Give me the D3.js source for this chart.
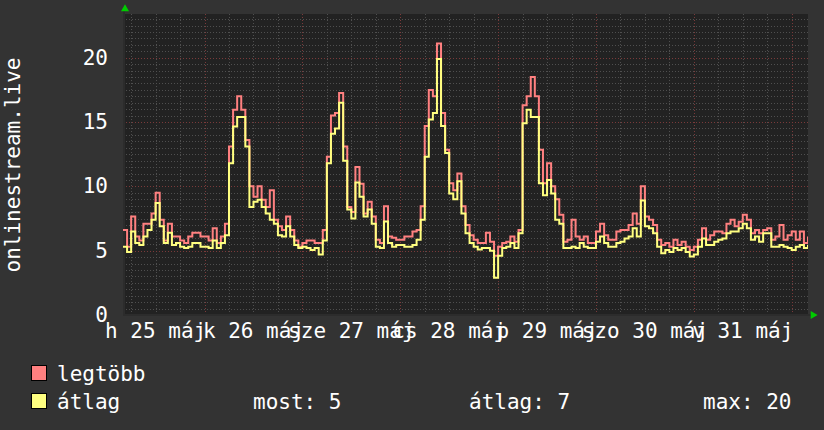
<!DOCTYPE html>
<html>
<head>
<meta charset="utf-8">
<script src="https://cdn.jsdelivr.net/npm/d3@7"></script>
<style>
  body { margin: 0; background: #333333; }
  text { font-family: "DejaVu Sans Mono", monospace; fill: #ffffff; }
</style>
</head>
<body>
<div id="chart"></div>
<script>
// hourly samples starting 2020-05-25 04:00
let startTime = Date.UTC(2020, 4, 25, 4)
let hours = 168

let legtobb = [
  6.6, 5.3, 7.65, 6.1, 5.8, 7.1, 7.1, 7.9, 9.5, 7.4,
  5.8, 7.1, 6.1, 6.1, 5.8, 5.6, 6.1, 6.4, 6.4, 6.1,
  6.1, 5.8, 6.75, 5.6, 6.1, 7.1, 13.1, 15.95, 17.0, 15.95,
  13.6, 10.0, 9.2, 10.0, 8.95, 8.4, 9.7, 7.4, 6.9, 6.6,
  7.65, 6.6, 5.8, 5.3, 5.6, 5.8, 5.8, 5.6, 5.6, 6.6,
  12.3, 15.5, 15.7, 17.25, 13.1, 8.4, 8.0, 11.5, 10.2, 7.9,
  8.8, 7.65, 5.85, 5.6, 8.45, 6.1, 6.0, 5.85, 5.85, 6.1,
  6.1, 6.5, 6.6, 8.45, 14.7, 17.5, 17.0, 21.1, 15.7, 12.85,
  10.25, 9.7, 11.0, 8.45, 7.0, 6.2, 5.85, 5.6, 5.6, 6.4,
  5.7, 4.6, 5.3, 5.6, 5.7, 6.1, 5.7, 6.6, 16.3, 17.0,
  18.5, 17.0, 12.85, 10.25, 11.8, 10.0, 9.0, 7.8, 5.7, 5.85,
  7.4, 6.1, 5.85, 6.1, 5.6, 5.6, 6.5, 7.1, 6.2, 5.85,
  5.85, 6.5, 6.6, 6.6, 7.0, 7.9, 7.1, 10.0, 7.65, 7.4,
  7.0, 5.85, 5.45, 5.6, 5.3, 5.85, 5.45, 5.7, 5.3, 5.05,
  5.3, 5.85, 6.75, 5.85, 6.2, 6.5, 6.5, 6.35, 7.1, 7.4,
  6.9, 7.25, 7.8, 7.4, 6.35, 6.6, 6.35, 6.6, 6.75, 5.85,
  6.1, 7.0, 5.85, 6.2, 6.5, 5.85, 6.5, 5.6, 6.1
]

let atlag = [
  5.3, 4.9, 6.5, 5.6, 5.45, 6.1, 6.6, 7.4, 8.7, 6.9,
  5.6, 6.4, 5.45, 5.6, 5.3, 5.2, 5.3, 5.6, 5.6, 5.3,
  5.3, 5.2, 5.8, 5.2, 5.6, 6.2, 11.8, 14.65, 15.4, 15.4,
  13.1, 8.4, 8.8, 8.95, 8.4, 7.9, 7.4, 7.1, 6.2, 6.1,
  6.9, 6.1, 5.45, 5.2, 5.3, 5.2, 5.05, 5.2, 4.7, 5.8,
  11.8, 14.1, 14.5, 16.5, 12.0, 8.2, 7.5, 10.3, 9.2, 7.65,
  8.2, 7.1, 5.3, 5.2, 7.26, 5.6, 5.3, 5.45, 5.45, 5.3,
  5.3, 5.45, 5.85, 7.4, 12.3, 15.2, 15.7, 19.9, 14.7, 12.6,
  9.45, 9.0, 10.4, 7.9, 6.35, 5.6, 5.3, 5.1, 5.2, 5.2,
  5.0, 2.9, 4.6, 5.2, 5.3, 5.6, 5.2, 6.35, 14.9, 15.95,
  15.4, 15.4, 10.25, 9.3, 10.5, 9.45, 7.4, 7.1, 5.2, 5.2,
  5.3, 5.2, 5.6, 5.3, 5.2, 5.2, 5.7, 6.1, 5.6, 5.3,
  5.3, 5.6, 5.7, 5.95, 6.1, 6.75, 6.1, 8.9, 6.9, 6.75,
  6.35, 5.3, 4.8, 5.05, 4.9, 5.2, 5.05, 5.2, 4.9, 4.55,
  4.7, 5.3, 5.95, 5.45, 5.45, 5.7, 5.85, 5.95, 6.35, 6.5,
  6.5, 6.75, 7.1, 6.75, 5.85, 6.1, 5.7, 6.35, 6.35, 5.3,
  5.3, 5.45, 5.3, 5.2, 5.05, 5.3, 5.45, 5.2, 5.45
]

let dayLabels = ['h 25 máj', 'k 26 máj', 'sze 27 máj', 'cs 28 máj', 'p 29 máj', 'szo 30 máj', 'v 31 máj']
let dayDates = [25, 26, 27, 28, 29, 30, 31]
let yTicks = [0, 5, 10, 15, 20]
let legendStats = [['most: 5', 253], ['átlag: 7', 469], ['max: 20', 703]]

let width = 824, height = 430
let plot = {left: 123, right: 808, top: 14, bottom: 315}

let svg = d3.select('#chart')
  .append('svg')
  .attr('width', width)
  .attr('height', height)
  .style('background-color', '#333333')

let x = d3.scaleUtc()
  .domain([new Date(startTime), new Date(startTime + hours * 3600e3)])
  .range([plot.left, plot.right])

let y = d3.scaleLinear()
  .domain([0, 23.4])
  .range([plot.bottom, plot.top])

// plot background
svg.append('rect')
  .attr('x', plot.left)
  .attr('y', plot.top)
  .attr('width', plot.right - plot.left)
  .attr('height', plot.bottom - plot.top)
  .attr('fill', '#222222')

let grid = svg.append('g')

// minor grid
grid.selectAll('.hminor')
  .data(d3.range(0.5, 23.4, 0.5).filter(function(v) { return v % 5 != 0 }))
  .enter().append('line')
  .attr('x1', plot.left).attr('x2', plot.right)
  .attr('y1', function(d) { return Math.round(y(d)) + 0.5 })
  .attr('y2', function(d) { return Math.round(y(d)) + 0.5 })
  .attr('stroke', '#4f4f4f')
  .attr('stroke-dasharray', '1,2')

grid.selectAll('.vminor')
  .data(x.ticks(d3.utcHour.every(6)).filter(function(d) { return d.getUTCHours() != 0 }))
  .enter().append('line')
  .attr('y1', plot.top).attr('y2', plot.bottom)
  .attr('x1', function(d) { return Math.round(x(d)) + 0.5 })
  .attr('x2', function(d) { return Math.round(x(d)) + 0.5 })
  .attr('stroke', '#4f4f4f')
  .attr('stroke-dasharray', '1,2')

// major grid
grid.selectAll('.hmajor')
  .data(yTicks.slice(1))
  .enter().append('line')
  .attr('x1', plot.left).attr('x2', plot.right)
  .attr('y1', function(d) { return Math.round(y(d)) + 0.5 })
  .attr('y2', function(d) { return Math.round(y(d)) + 0.5 })
  .attr('stroke', '#7a3a3a')
  .attr('stroke-dasharray', '1,2')

grid.selectAll('.vmajor')
  .data(x.ticks(d3.utcDay.every(1)))
  .enter().append('line')
  .attr('y1', plot.top).attr('y2', plot.bottom)
  .attr('x1', function(d) { return Math.round(x(d)) + 0.5 })
  .attr('x2', function(d) { return Math.round(x(d)) + 0.5 })
  .attr('stroke', '#7a3a3a')
  .attr('stroke-dasharray', '1,2')

// axes
svg.append('line')
  .attr('x1', plot.left + 1).attr('x2', plot.left + 1)
  .attr('y1', plot.top - 4).attr('y2', plot.bottom)
  .attr('stroke', '#2c2c2c').attr('stroke-width', 2)
svg.append('line')
  .attr('x1', plot.left).attr('x2', plot.right + 4)
  .attr('y1', plot.bottom).attr('y2', plot.bottom)
  .attr('stroke', '#2c2c2c').attr('stroke-width', 2)

svg.append('path')
  .attr('d', d3.symbol().type(d3.symbolTriangle).size(28)())
  .attr('transform', 'translate(' + (plot.left + 2) + ',' + (plot.top - 5) + ')')
  .attr('fill', '#00cc00')
svg.append('path')
  .attr('d', d3.symbol().type(d3.symbolTriangle).size(28)())
  .attr('transform', 'translate(' + (plot.right + 5) + ',' + plot.bottom + ') rotate(90)')
  .attr('fill', '#00cc00')

// lines
svg.append('clipPath').attr('id', 'clip')
  .append('rect')
  .attr('x', plot.left).attr('y', plot.top)
  .attr('width', plot.right - plot.left).attr('height', plot.bottom - plot.top)

let line = d3.line()
  .curve(d3.curveStepAfter)
  .x(function(d, i) { return x(new Date(startTime + i * 3600e3)) })
  .y(function(d) { return y(d) })

let series = [{name: 'legtöbb', values: legtobb, color: '#ff8080'},
              {name: 'átlag', values: atlag, color: '#ffff80'}]

svg.append('g').attr('clip-path', 'url(#clip)')
  .selectAll('path')
  .data(series)
  .enter().append('path')
  .attr('d', function(d) { return line(d.values) })
  .attr('fill', 'none')
  .attr('stroke', function(d) { return d.color })
  .attr('stroke-width', 2)

// y labels
svg.selectAll('.ylab')
  .data(yTicks)
  .enter().append('text')
  .attr('x', 108)
  .attr('y', function(d) { return y(d) + 7 })
  .attr('text-anchor', 'end')
  .style('font-size', '21px')
  .text(function(d) { return d })

// x labels centered at noon
svg.selectAll('.xlab')
  .data(dayLabels)
  .enter().append('text')
  .attr('x', function(d, i) { return x(new Date(Date.UTC(2020, 4, dayDates[i], 12))) })
  .attr('y', 338)
  .attr('text-anchor', 'middle')
  .style('font-size', '21px')
  .text(function(d) { return d })

svg.append('text')
  .attr('transform', 'translate(20,165) rotate(-90)')
  .attr('text-anchor', 'middle')
  .style('font-size', '21px')
  .text('onlinestream.live')

// legend
let legend = svg.selectAll('.legend')
  .data(series)
  .enter().append('g')
  .attr('transform', function(d, i) { return 'translate(0,' + i * 28 + ')' })

legend.append('rect')
  .attr('x', 31.5).attr('y', 365.5)
  .attr('width', 15).attr('height', 15)
  .attr('fill', function(d) { return d.color })
  .attr('stroke', '#000000')

legend.append('text')
  .attr('x', 57)
  .attr('y', 381)
  .style('font-size', '21px')
  .text(function(d) { return d.name })

svg.selectAll('.stat')
  .data(legendStats)
  .enter().append('text')
  .attr('x', function(d) { return d[1] })
  .attr('y', 409)
  .style('font-size', '21px')
  .text(function(d) { return d[0] })
</script>
</body>
</html>
